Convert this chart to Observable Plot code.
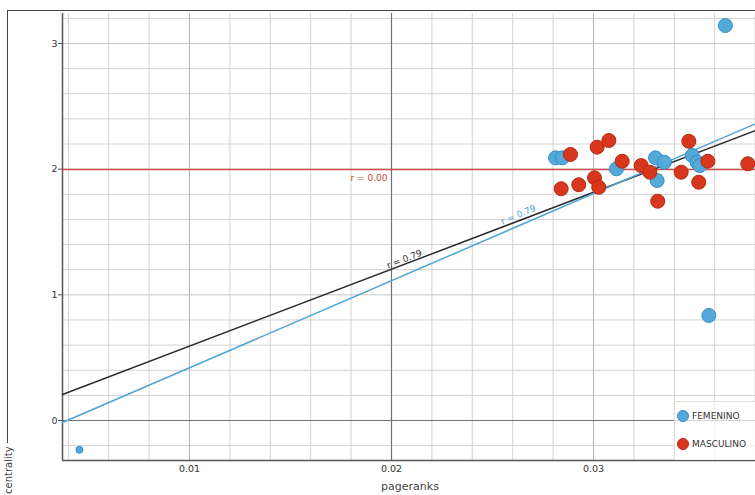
<!DOCTYPE html>
<html><head><meta charset="utf-8">
<script src="https://cdn.jsdelivr.net/npm/d3@7"></script>
<script src="https://cdn.jsdelivr.net/npm/@observablehq/plot@0.6"></script>
<style>
body{margin:0;background:#fff;}
#wrap{position:relative;width:755px;height:495px;overflow:hidden;font-family:"DejaVu Sans",sans-serif;background:#fff;}
#wrap svg{position:absolute;left:0;top:0;}
.frame{position:absolute;left:7px;top:10px;width:760px;height:432px;border-left:1.5px solid #444;border-top:1.5px solid #444;pointer-events:none;}
.legend{position:absolute;left:674px;top:401px;width:90px;height:58px;background:rgba(255,255,255,0.7);border-left:1px solid #e2ddd2;border-top:1px solid #e2ddd2;font-size:9px;color:#333;}
.legend .it{position:absolute;left:2px;display:flex;align-items:center;}
.legend .dot{width:12px;height:12px;border-radius:50%;margin-right:3px;box-sizing:border-box;}
.xlab{position:absolute;left:0;width:820px;text-align:center;top:480px;font-size:11px;line-height:13px;color:#444;}
.ylab{position:absolute;left:3px;top:494px;transform-origin:0 0;transform:rotate(-90deg);font-size:10px;line-height:12px;color:#444;white-space:nowrap;}
</style></head><body><div id="wrap"></div>
<script>
// ---- data ----
const seriesNames = ["FEMENINO", "MASCULINO"];
const femX = [0.02812, 0.02845, 0.03114, 0.03307, 0.03351, 0.03315, 0.03489, 0.03513, 0.03526, 0.03653, 0.03571];
const femY = [2.090, 2.090, 2.003, 2.090, 2.055, 1.910, 2.109, 2.055, 2.029, 3.143, 0.836];
const femSmallX = [0.00455];
const femSmallY = [-0.233];
const masX = [0.02886, 0.03018, 0.03076, 0.03142, 0.03236, 0.03279, 0.02840, 0.02927, 0.03005, 0.03026, 0.03318, 0.03434, 0.03472, 0.03521, 0.03566, 0.03764];
const masY = [2.117, 2.175, 2.228, 2.063, 2.029, 1.976, 1.844, 1.876, 1.931, 1.856, 1.745, 1.976, 2.222, 1.896, 2.063, 2.043];
const fitNames = ["ALL", "FEMENINO", "MASCULINO"];
const fitSlope = [61.2, 69.3, 0];
const fitIntercept = [-0.0202, -0.2733, 1.997];
const fitLabel = ["r = 0.79", "r = 0.79", "r = 0.00"];
const fitLabelX = [0.02069, 0.02634, 0.01797];
const xTicks = [0.01, 0.02, 0.03];
const yTicks = [0, 1, 2, 3];
const xDomain = [0.003713, 0.03802];
const yDomain = [-0.3183, 3.2387];
const xLabel = "pageranks";
const yLabel = "centrality";

// ---- styles ----
const W = 755, H = 495, mL = 62, mR = 0, mT = 13, mB = 35;
const colors = {FEMENINO: "#52aadb", MASCULINO: "#d8371d"};
const strokes = {FEMENINO: "#3a8cc0", MASCULINO: "#b32a14"};
const fitColor = {ALL: "#2b2b2b", FEMENINO: "#4aa6d6", MASCULINO: "#c8504a"};
const fitTextColor = {ALL: "#333", FEMENINO: "#4aa6d6", MASCULINO: "#b5503a"};
const fitTextDy = {ALL: -2, FEMENINO: -8, MASCULINO: 5};

const fem = femX.map((x, i) => ({x, y: femY[i], s: "FEMENINO"}));
const femSmall = femSmallX.map((x, i) => ({x, y: femSmallY[i], s: "FEMENINO"}));
const mas = masX.map((x, i) => ({x, y: masY[i], s: "MASCULINO"}));

const pxPerX = (W - mL - mR) / (xDomain[1] - xDomain[0]);
const pxPerY = (H - mT - mB) / (yDomain[1] - yDomain[0]);
const fitLines = [];
fitNames.forEach((n, i) => xDomain.forEach(x => fitLines.push({n, x, y: fitIntercept[i] + fitSlope[i] * x})));
const fitLabels = fitNames.map((n, i) => ({
  n, text: fitLabel[i], x: fitLabelX[i], y: fitIntercept[i] + fitSlope[i] * fitLabelX[i],
  angle: -Math.atan(fitSlope[i] * pxPerY / pxPerX) * 180 / Math.PI
}));

// grid
const xGrid = d3.range(2, 20).map(k => k * 0.002);
const yGrid = d3.range(-1, 17).map(k => k * 0.2);
const majorX = x => Math.abs(x - 0.01) < 1e-9 || Math.abs(x - 0.03) < 1e-9;
const darkX = x => Math.abs(x - 0.02) < 1e-9;
const majorY = y => [1, 2, 3].some(v => Math.abs(y - v) < 1e-9);
const darkY = y => Math.abs(y) < 1e-9;

const plot = Plot.plot({
  width: W, height: H,
  marginLeft: mL, marginRight: mR, marginTop: mT, marginBottom: mB,
  style: {fontFamily: "DejaVu Sans, sans-serif", background: "transparent", overflow: "visible"},
  x: {domain: xDomain, label: null},
  y: {domain: yDomain, label: null},
  marks: [
    Plot.ruleX(xGrid.filter(x => !majorX(x) && !darkX(x)), {stroke: "#d2d2d2", strokeWidth: 1}),
    Plot.ruleY(yGrid.filter(y => !majorY(y) && !darkY(y)), {stroke: "#d2d2d2", strokeWidth: 1}),
    Plot.ruleX(xGrid.filter(majorX), {stroke: "#b4b4b4", strokeWidth: 1}),
    Plot.ruleY(yGrid.filter(majorY), {stroke: "#c4c4c4", strokeWidth: 1}),
    Plot.ruleX(xGrid.filter(darkX), {stroke: "#707070", strokeWidth: 1.2}),
    Plot.ruleY(yGrid.filter(darkY), {stroke: "#707070", strokeWidth: 1.2}),
    Plot.ruleX([xDomain[0]], {stroke: "#555", strokeWidth: 1.5}),
    Plot.ruleY([yDomain[0]], {stroke: "#555", strokeWidth: 1.5}),
    Plot.axisX({ticks: xTicks, tickSize: 0, tickPadding: 5, fontSize: 9.5, fill: "#333", label: null, tickFormat: d3.format(".2f")}),
    Plot.axisY({ticks: yTicks, tickSize: 4, tickPadding: 1, fontSize: 9.5, fill: "#333", label: null, stroke: "#555", tickFormat: d => String(d)}),
    Plot.line(fitLines, {x: "x", y: "y", z: "n", stroke: d => fitColor[d.n], strokeWidth: 1.5}),
    Plot.text(fitLabels.filter(d => d.n === "ALL"), {x: "x", y: "y", text: "text", rotate: "angle", textAnchor: "middle", lineAnchor: "bottom", dy: -2, fill: fitTextColor.ALL, fontSize: 9}),
    Plot.text(fitLabels.filter(d => d.n === "FEMENINO"), {x: "x", y: "y", text: "text", rotate: "angle", textAnchor: "middle", lineAnchor: "bottom", dy: -8, fill: fitTextColor.FEMENINO, fontSize: 9}),
    Plot.text(fitLabels.filter(d => d.n === "MASCULINO"), {x: "x", y: "y", text: "text", textAnchor: "start", lineAnchor: "top", dy: 5, fill: fitTextColor.MASCULINO, fontSize: 9}),
    Plot.dot(femSmall, {x: "x", y: "y", r: 3.5, fill: d => colors[d.s], stroke: d => strokes[d.s], strokeWidth: 1}),
    Plot.dot(fem, {x: "x", y: "y", r: 7, fill: d => colors[d.s], stroke: d => strokes[d.s], strokeWidth: 1}),
    Plot.dot(mas, {x: "x", y: "y", r: 7, fill: d => colors[d.s], stroke: d => strokes[d.s], strokeWidth: 1})
  ]
});

const wrap = document.getElementById("wrap");
wrap.appendChild(plot);
const fr = document.createElement("div"); fr.className = "frame"; wrap.appendChild(fr);
const lg = document.createElement("div"); lg.className = "legend";
seriesNames.forEach((n, i) => {
  const it = document.createElement("div"); it.className = "it"; it.style.top = (8 + i * 28) + "px";
  const dot = document.createElement("div"); dot.className = "dot"; dot.style.background = colors[n]; dot.style.border = "1px solid " + strokes[n];
  const t = document.createElement("span"); t.textContent = n;
  it.appendChild(dot); it.appendChild(t); lg.appendChild(it);
});
wrap.appendChild(lg);
const xl = document.createElement("div"); xl.className = "xlab"; xl.textContent = xLabel; wrap.appendChild(xl);
const yl = document.createElement("div"); yl.className = "ylab"; yl.textContent = yLabel; wrap.appendChild(yl);
</script>
</body></html>
